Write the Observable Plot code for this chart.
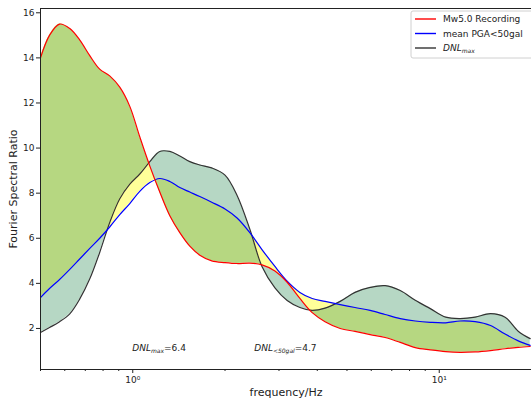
<!DOCTYPE html>
<html><head><meta charset="utf-8">
<script src="https://cdn.jsdelivr.net/npm/d3@7"></script>
<script src="https://cdn.jsdelivr.net/npm/@observablehq/plot@0.6"></script>
<style>body{margin:0;background:#fff;} #chart{width:531px;height:400px;overflow:hidden}</style>
</head><body><div id="chart"></div>
<script>
// frequency grid (Hz)
const frequency = [0.50,0.535,0.577,0.623,0.671,0.724,0.780,0.841,0.907,0.978,1.054,1.137,1.225,1.321,1.424,1.535,1.655,1.81,2.00,2.19,2.41,2.64,2.91,3.19,3.51,3.85,4.24,4.75,5.31,5.95,6.66,7.46,8.35,9.35,10.5,11.7,13.1,14.7,16.4,18.1,19.8];
// Mw5.0 Recording
const recording = [14.0,15.0,15.5,15.3,14.8,14.1,13.5,13.2,12.7,11.85,10.5,9.2,8.05,7.0,6.25,5.65,5.25,5.0,4.92,4.88,4.9,4.82,4.55,4.05,3.33,2.7,2.3,2.0,1.87,1.73,1.6,1.38,1.15,1.05,0.97,0.94,0.96,1.02,1.1,1.16,1.2];
// mean PGA<50gal
const meanPGA = [3.37,3.77,4.17,4.62,5.08,5.55,6.0,6.5,7.05,7.54,8.08,8.47,8.65,8.52,8.25,8.05,7.85,7.6,7.3,6.9,6.25,5.5,4.75,4.1,3.6,3.33,3.2,3.06,2.93,2.8,2.62,2.44,2.33,2.27,2.25,2.33,2.3,2.13,1.75,1.45,1.25];
// DNL max
const dnlMax = [1.82,2.04,2.3,2.65,3.3,4.2,5.37,6.7,7.75,8.4,8.85,9.4,9.85,9.85,9.65,9.4,9.25,9.12,8.8,7.9,6.4,4.75,3.8,3.24,2.93,2.8,2.9,3.2,3.6,3.82,3.9,3.68,3.25,2.88,2.5,2.44,2.5,2.66,2.5,1.88,1.55];

const majorTicks = [1, 10];
const majorLabels = ["10⁰", "10¹"];
const minorTicks = [0.5,0.6,0.7,0.8,0.9,2,3,4,5,6,7,8,9,20];
const yTicks = [2,4,6,8,10,12,14,16];
const xLabel = "frequency/Hz";
const yLabel = "Fourier Spectral Ratio";
const legendNames = [["Mw5.0 Recording",""],["mean PGA<50gal",""],["DNL","max"]];
const legendColors = ["#ff0000","#0000ff","#333333"];
const annotations = [
  {f:1.0, v:0.98, main:"DNL", sub:"max", rest:"=6.4"},
  {f:2.5, v:1.0, main:"DNL", sub:"<50gal", rest:"=4.7"}
];

const rows = frequency.map((f,i)=>({f, red:recording[i], blue:meanPGA[i], black:dnlMax[i]}));
const curve = "catmull-rom";

const plot = Plot.plot({
  width:531, height:400,
  marginLeft:40, marginRight:0, marginTop:8, marginBottom:31,
  style:{fontFamily:"DejaVu Sans", fontSize:"9px", color:"#222", background:"white", overflow:"visible"},
  x:{type:"log", domain:[0.5,20]},
  y:{domain:[0.18,16.19]},
  marks:[
    Plot.areaY(rows,{x:"f", y1:"red", y2:"blue", fill:"#ffff00", fillOpacity:0.4, curve}),
    Plot.areaY(rows,{x:"f", y1:"red", y2:"black", fill:"#2e8b57", fillOpacity:0.35, curve}),
    Plot.lineY(rows,{x:"f", y:"black", stroke:legendColors[2], strokeWidth:1.2, curve}),
    Plot.lineY(rows,{x:"f", y:"blue", stroke:legendColors[1], strokeWidth:1.2, curve}),
    Plot.lineY(rows,{x:"f", y:"red", stroke:legendColors[0], strokeWidth:1.2, curve}),
    Plot.axisX({ticks:minorTicks, tickFormat:()=>"", tickSize:2, label:null}),
    Plot.axisX({ticks:majorTicks, tickFormat:d=>majorLabels[majorTicks.indexOf(d)], tickSize:4, tickPadding:3, label:null}),
    Plot.axisY({ticks:yTicks, tickSize:4, tickPadding:2, label:null}),
    Plot.frame({stroke:"#222", strokeWidth:1}),
    Plot.text([xLabel],{frameAnchor:"bottom", dy:23, lineAnchor:"middle", textAnchor:"middle", fontSize:11, fill:"#222"}),
    Plot.text([yLabel],{frameAnchor:"left", dx:-27, rotate:-90, lineAnchor:"middle", textAnchor:"middle", fontSize:11, fill:"#222"})
  ]
});
document.getElementById("chart").appendChild(plot);

const sx = plot.scale("x"), sy = plot.scale("y");
const svg = d3.select(plot);
annotations.forEach(a=>{
  const t = svg.append("text").attr("x", sx.apply(a.f)).attr("y", sy.apply(a.v))
    .attr("text-anchor","start").attr("font-size",9).attr("fill","#222").attr("font-family","DejaVu Sans");
  t.append("tspan").attr("font-style","italic").text(a.main);
  t.append("tspan").attr("font-style","italic").attr("font-size",6).attr("dy",2).text(a.sub);
  t.append("tspan").attr("dy",-2).text(a.rest);
});

// legend
const lg = svg.append("g").attr("font-family","DejaVu Sans").attr("font-size",9).attr("text-anchor","start");
lg.append("rect").attr("x",411).attr("y",11).attr("width",125).attr("height",47).attr("rx",2)
  .attr("fill","white").attr("fill-opacity",0.85).attr("stroke","#d0d0d0");
legendNames.forEach((n,i)=>{
  const y = 19 + i*14.5;
  lg.append("line").attr("x1",415).attr("x2",436).attr("y1",y).attr("y2",y)
    .attr("stroke",legendColors[i]).attr("stroke-width",1.4);
  const t = lg.append("text").attr("x",443).attr("y",y+3.2).attr("fill","#222");
  if (n[1]) {
    t.append("tspan").attr("font-style","italic").text(n[0]);
    t.append("tspan").attr("font-style","italic").attr("font-size",6).attr("dy",2).text(n[1]);
  } else t.text(n[0]);
});
</script>
</body></html>
